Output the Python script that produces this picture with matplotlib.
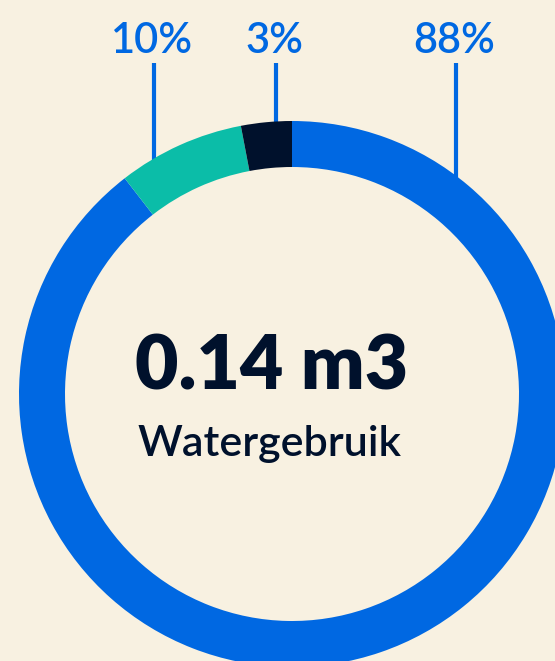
import numpy as np
import matplotlib
matplotlib.use("Agg")
import matplotlib.pyplot as plt

# shares as drawn on the ring (clockwise from 12 o'clock)
segments = ["Blauw", "Groen", "Donker"]
shares = [89.5, 7.5, 3.0]
colors = ["#0068E2", "#0BBDA8", "#00112C"]

# labels above the ring and the x pixel where their leader lines sit
labels = ["10%", "3%", "88%"]
label_x = [154, 276, 456]

total_value = "0.14 m3"
total_name = "Watergebruik"

BG = "#F8F1E1"
W, H = 555, 661
cx, cy = 292, H - 394
r_out, ring_w = 273, 46

fig = plt.figure(figsize=(W / 100, H / 100), dpi=100, facecolor=BG)
ax = fig.add_axes([0, 0, 1, 1])
ax.set_facecolor(BG)

ax.pie(shares, colors=colors, startangle=90, counterclock=False,
       center=(cx, cy), radius=r_out,
       wedgeprops=dict(width=ring_w, linewidth=0), frame=True)
ax.set_xlim(0, W)
ax.set_ylim(0, H)
ax.set_aspect("equal")
ax.axis("off")

# leader lines down to the ring, drawn behind it
r_mid = r_out - ring_w / 2
for lab, x in zip(labels, label_x):
    y_end = cy + np.sqrt(r_mid ** 2 - (x - cx) ** 2)
    ax.plot([x, x], [H - 63, y_end], color="#0068E2", lw=3, zorder=0,
            solid_capstyle="butt")
    ax.text(x - 2, H - 53, lab, ha="center", va="baseline", color="#0068E2",
            fontsize=30, fontweight="semibold", family="Lato")

ax.text(272, H - 390, total_value, ha="center", va="baseline", color="#00112C",
        fontsize=54, fontweight="heavy", family="Lato")
ax.text(270, H - 456, total_name, ha="center", va="baseline", color="#00112C",
        fontsize=31, fontweight="semibold", family="Lato")

fig.savefig("out.png", dpi=100, facecolor=BG)
